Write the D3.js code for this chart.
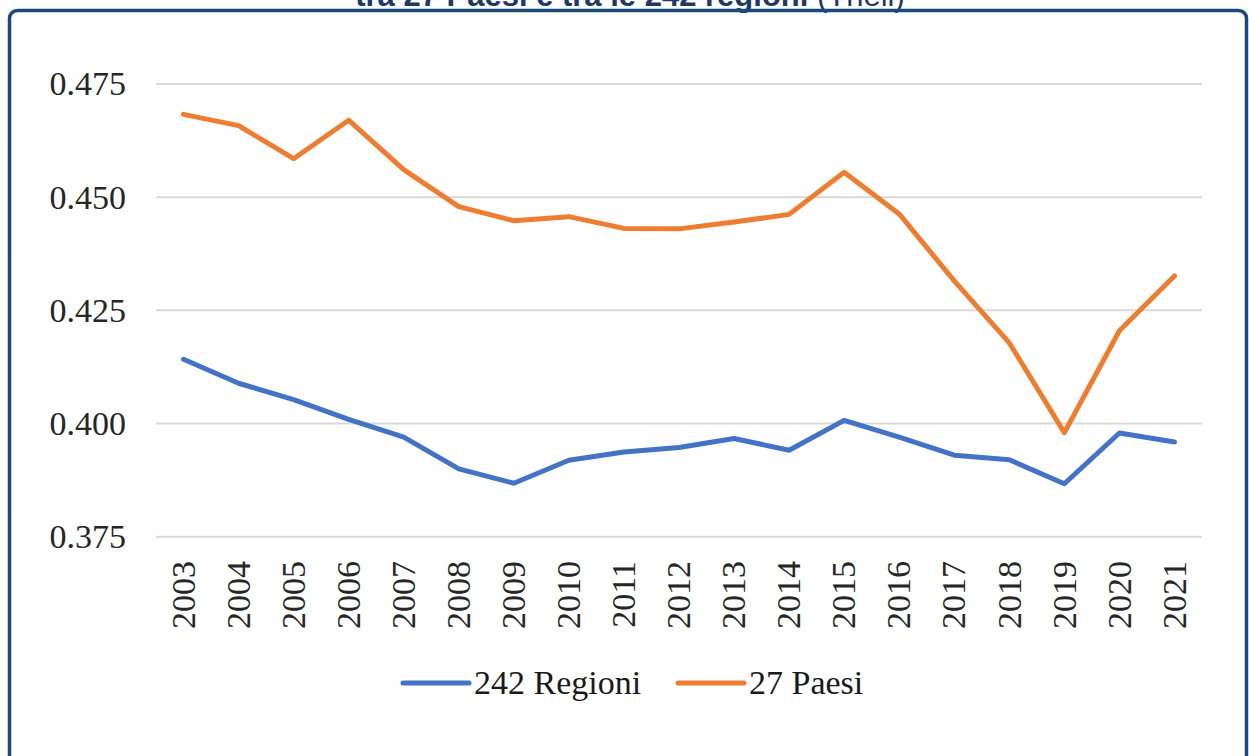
<!DOCTYPE html>
<html>
<head>
<meta charset="utf-8">
<script src="https://cdn.jsdelivr.net/npm/d3@7"></script>
<style>
    body { margin: 0; background: #fff; }
    svg { display: block; }
</style>
</head>
<body>
<div id="visualization"></div>
<script>
// data
const years = ["2003", "2004", "2005", "2006", "2007", "2008", "2009", "2010", "2011", "2012",
    "2013", "2014", "2015", "2016", "2017", "2018", "2019", "2020", "2021"];
const regioni = [0.4142, 0.4089, 0.4053, 0.4009, 0.3970, 0.3900, 0.3868, 0.3919, 0.3937, 0.3947,
    0.3967, 0.3941, 0.4007, 0.3970, 0.3930, 0.3920, 0.3867, 0.3979, 0.3959];
const paesi = [0.4683, 0.4658, 0.4585, 0.4670, 0.4561, 0.4479, 0.4448, 0.4457, 0.4431, 0.4430,
    0.4445, 0.4462, 0.4555, 0.4463, 0.4315, 0.4178, 0.3980, 0.4205, 0.4326];
const yTicks = [0.375, 0.400, 0.425, 0.450, 0.475];
const seriesNames = ["242 Regioni", "27 Paesi"];
const seriesColors = ["#4472c4", "#ed7d31"];

const svg = d3
    .select("#visualization")
    .append("svg")
    .attr("width", 1249)
    .attr("height", 756)

const labelFont = "'Liberation Serif', 'Times New Roman', serif";

// title, clipped by the top of the page as in the source
const title = svg.append("text")
    .attr("x", 630)
    .attr("y", 6)
    .attr("text-anchor", "middle")
    .attr("font-family", "'Liberation Sans', Arial, sans-serif")
    .attr("font-size", 31)
    .attr("fill", "#1f3864");
title.append("tspan").attr("font-weight", "bold").text("tra 27 Paesi e tra le 242 regioni");
title.append("tspan").text(" (Theil)");

// frame
svg.append("rect")
    .attr("x", 9.5)
    .attr("y", 10.5)
    .attr("width", 1237)
    .attr("height", 780)
    .attr("rx", 8)
    .attr("fill", "none")
    .attr("stroke", "#1a4a7a")
    .attr("stroke-width", 3.5)

const x = d3.scaleBand()
    .domain(years)
    .range([156, 1202]);

const y = d3.scaleLinear()
    .domain([0.375, 0.475])
    .range([536.7, 84]);

// grid lines
const grid = svg.append("g").attr("id", "grid");
grid.selectAll("line")
    .data(yTicks)
    .enter()
    .append("line")
    .attr("x1", 156)
    .attr("x2", 1202)
    .attr("y1", d => y(d))
    .attr("y2", d => y(d))
    .attr("stroke", "#d9d9d9")
    .attr("stroke-width", 2)

// y axis labels
const yAxis = svg.append("g")
    .attr("transform", "translate(126,0)")
    .call(d3.axisLeft(y).tickValues(yTicks).tickFormat(d3.format(".3f")).tickSize(0).tickPadding(0));
yAxis.select(".domain").remove();
yAxis.selectAll("text")
    .attr("font-family", labelFont)
    .attr("font-size", 34)
    .attr("fill", "#262626")
    .attr("dy", "0.32em");

// x axis labels, rotated
const xAxis = svg.append("g")
    .attr("transform", "translate(0,561)")
    .call(d3.axisBottom(x).tickSize(0).tickPadding(0));
xAxis.select(".domain").remove();
xAxis.selectAll("text")
    .attr("font-family", labelFont)
    .attr("font-size", 34)
    .attr("fill", "#262626")
    .attr("transform", "rotate(-90)")
    .attr("text-anchor", "end")
    .attr("x", 0)
    .attr("y", 0)
    .attr("dx", 0)
    .attr("dy", "0.33em");

// lines
const line = d3.line()
    .x((d, i) => x(years[i]) + x.bandwidth() / 2)
    .y(d => y(d));

const lines = svg.append("g").attr("id", "lines");
[regioni, paesi].forEach((vals, i) => {
    lines.append("path")
        .attr("d", line(vals))
        .attr("fill", "none")
        .attr("stroke", seriesColors[i])
        .attr("stroke-width", 5)
        .attr("stroke-linejoin", "round")
        .attr("stroke-linecap", "round")
});

// legend
const legendX = [403, 678];
const legend = svg.append("g").attr("id", "legend");
seriesNames.forEach((name, i) => {
    legend.append("line")
        .attr("x1", legendX[i])
        .attr("x2", legendX[i] + 66)
        .attr("y1", 683)
        .attr("y2", 683)
        .attr("stroke", seriesColors[i])
        .attr("stroke-width", 5)
        .attr("stroke-linecap", "round")
    legend.append("text")
        .attr("x", legendX[i] + 71)
        .attr("y", 694)
        .attr("font-family", labelFont)
        .attr("font-size", 34)
        .attr("fill", "#1a1a1a")
        .text(name)
});
</script>
</body>
</html>
